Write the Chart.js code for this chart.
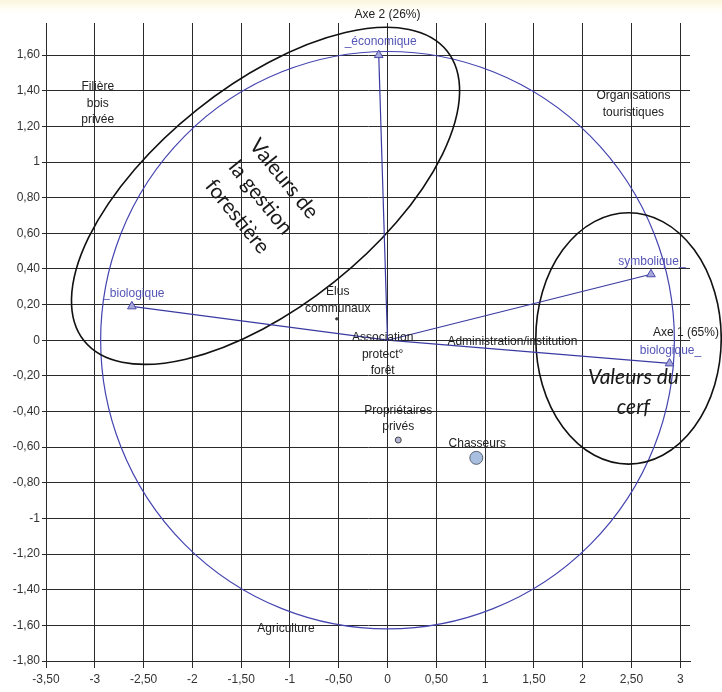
<!DOCTYPE html>
<html lang="fr">
<head>
  <meta charset="UTF-8" />
  <title>Cercle des corrélations</title>
  <script src="https://cdn.jsdelivr.net/npm/chart.js"></script>
  <style>
    body {
      margin: 0;
      background: linear-gradient(#fbf5dc 0, #fffdf4 8px, #ffffff 14px);
    }
    #wrap { width: 722px; height: 692px; }
  </style>
</head>
<body>

<div id="wrap"><canvas id="acp" width="722" height="692"></canvas></div>

<script>
  // Axes
  const axisTitleX = 'Axe 1 (65%)';
  const axisTitleY = 'Axe 2 (26%)';

  // Variables (vecteurs depuis l'origine)
  const varNames = ['_économique', '_biologique', 'symbolique_', 'biologique_'];
  const varX = [-0.09, -2.62, 2.70, 2.89];
  const varY = [1.60, 0.19, 0.37, -0.13];
  const varLabelX = [-0.07, -2.60, 2.71, 2.90];
  const varLabelY = [1.675, 0.26, 0.44, -0.06];

  // Acteurs avec marqueur
  const groupNames = ['Elus communaux', 'Propriétaires privés', 'Chasseurs'];
  const groupX = [-0.52, 0.11, 0.91];
  const groupY = [0.12, -0.56, -0.66];

  // Etiquettes d'acteurs
  const actorNames = ['Filière\nbois\nprivée', 'Organisations\ntouristiques', 'Elus\ncommunaux',
    'Association\nprotect°\nforêt', 'Administration/institution', 'Propriétaires\nprivés',
    'Chasseurs', 'Agriculture'];
  const actorX = [-2.97, 2.52, -0.51, -0.05, 1.28, 0.11, 0.92, -1.04];
  const actorY = [1.33, 1.325, 0.225, -0.08, -0.01, -0.44, -0.58, -1.62];

  // Cercle des corrélations
  const circleRX = 2.94;
  const circleRY = 1.62;

  // Groupes de valeurs (ellipses)
  const groupTitles = ['Valeurs de\nla gestion\nforestière', 'Valeurs du\ncerf'];
  const ellCX = [-1.25, 2.47];
  const ellCY = [0.81, 0.01];
  const ellRX = [2.38, 0.95];
  const ellRY = [0.618, 0.705];
  const ellAngle = [-38.6, 0];
  const titleX = [-1.30, 2.52];
  const titleY = [0.80, -0.29];
  const titleAngle = [51, 0];

  const fmt = v => {
    const r = Math.round(v * 100) / 100;
    return Number.isInteger(r) ? String(r) : r.toFixed(2).replace('.', ',');
  };

  const blue = '#3a3aa2';

  const datasets = varNames.map((n, i) => ({
    label: n,
    data: [{ x: 0, y: 0 }, { x: varX[i], y: varY[i] }],
    showLine: true,
    borderColor: blue,
    borderWidth: 1.2,
    pointStyle: 'triangle',
    pointRadius: [0, 5],
    pointBackgroundColor: '#a6a6da',
    pointBorderColor: '#4a4aa8',
    pointBorderWidth: 1
  }));
  const groupStyle = [
    { r: 1.2, bg: '#333', bd: '#333' },
    { r: 3, bg: '#b4b4d4', bd: '#444' },
    { r: 6.5, bg: '#a9bfe0', bd: '#5a6272' }
  ];
  groupNames.forEach((n, i) => datasets.push({
    label: n,
    data: [{ x: groupX[i], y: groupY[i] }],
    pointRadius: groupStyle[i].r,
    pointBackgroundColor: groupStyle[i].bg,
    pointBorderColor: groupStyle[i].bd,
    pointBorderWidth: 1
  }));

  function multiline(ctx, text, x, y, lh) {
    const lines = text.split('\n');
    const y0 = y - (lines.length - 1) * lh / 2;
    lines.forEach((l, k) => ctx.fillText(l, x, y0 + k * lh));
  }

  const shapes = {
    id: 'shapes',
    beforeDatasetsDraw(chart) {
      const { ctx, scales: { x, y } } = chart;
      const ux = x.getPixelForValue(1) - x.getPixelForValue(0);
      const uy = y.getPixelForValue(0) - y.getPixelForValue(1);
      ctx.save();
      ctx.strokeStyle = '#4444b0';
      ctx.lineWidth = 1.2;
      ctx.beginPath();
      ctx.ellipse(x.getPixelForValue(0), y.getPixelForValue(0), circleRX * ux, circleRY * uy, 0, 0, Math.PI * 2);
      ctx.stroke();
      ctx.strokeStyle = '#111';
      ctx.lineWidth = 1.6;
      ellCX.forEach((cx, i) => {
        ctx.beginPath();
        ctx.ellipse(x.getPixelForValue(cx), y.getPixelForValue(ellCY[i]), ellRX[i] * ux, ellRY[i] * uy,
          ellAngle[i] * Math.PI / 180, 0, Math.PI * 2);
        ctx.stroke();
      });
      ctx.restore();
    },
    afterDatasetsDraw(chart) {
      const { ctx, scales: { x, y } } = chart;
      ctx.save();
      ctx.textAlign = 'center';
      ctx.textBaseline = 'middle';
      ctx.font = '12px "Liberation Sans", Arial, sans-serif';
      ctx.fillStyle = '#222';
      actorNames.forEach((n, i) => multiline(ctx, n, x.getPixelForValue(actorX[i]), y.getPixelForValue(actorY[i]), 16.5));
      ctx.fillText(axisTitleY, x.getPixelForValue(0), 15);
      ctx.textAlign = 'left';
      ctx.fillText(axisTitleX, x.getPixelForValue(2.72), y.getPixelForValue(0.045));
      ctx.textAlign = 'center';
      ctx.fillStyle = '#5555b8';
      varNames.forEach((n, i) => ctx.fillText(n, x.getPixelForValue(varLabelX[i]), y.getPixelForValue(varLabelY[i])));
      ctx.fillStyle = '#1a1a1a';
      groupTitles.forEach((t, i) => {
        ctx.save();
        ctx.translate(x.getPixelForValue(titleX[i]), y.getPixelForValue(titleY[i]));
        ctx.rotate(titleAngle[i] * Math.PI / 180);
        ctx.font = (i === 1 ? 'italic ' : '') + '21px Lato, "Open Sans", sans-serif';
        multiline(ctx, t, 0, 0, 30);
        ctx.restore();
      });
      ctx.restore();
    }
  };

  new Chart(document.getElementById('acp'), {
    type: 'scatter',
    data: { datasets },
    plugins: [shapes],
    options: {
      responsive: false,
      animation: false,
      layout: { padding: { top: 23, right: 32, left: 0, bottom: 0 } },
      plugins: { legend: { display: false }, tooltip: { enabled: false } },
      scales: {
        x: {
          min: -3.5, max: 3.1,
          afterFit: s => { s.height = 31; },
          grid: { color: '#2a2a2a', lineWidth: 1, tickLength: 7 },
          border: { color: '#2a2a2a' },
          ticks: {
            stepSize: 0.5, includeBounds: false, padding: 4,
            color: '#333', font: { family: '"Liberation Sans", Arial, sans-serif', size: 12 },
            callback: v => fmt(v), maxRotation: 0, autoSkip: false
          }
        },
        y: {
          min: -1.8, max: 1.78,
          afterFit: s => { s.width = 46; },
          grid: { color: '#2a2a2a', lineWidth: 1, tickLength: 4 },
          border: { color: '#2a2a2a' },
          ticks: {
            stepSize: 0.2, includeBounds: false, padding: 2,
            color: '#333', font: { family: '"Liberation Sans", Arial, sans-serif', size: 12 },
            callback: v => fmt(v), autoSkip: false
          }
        }
      }
    }
  });
</script>

</body>
</html>
